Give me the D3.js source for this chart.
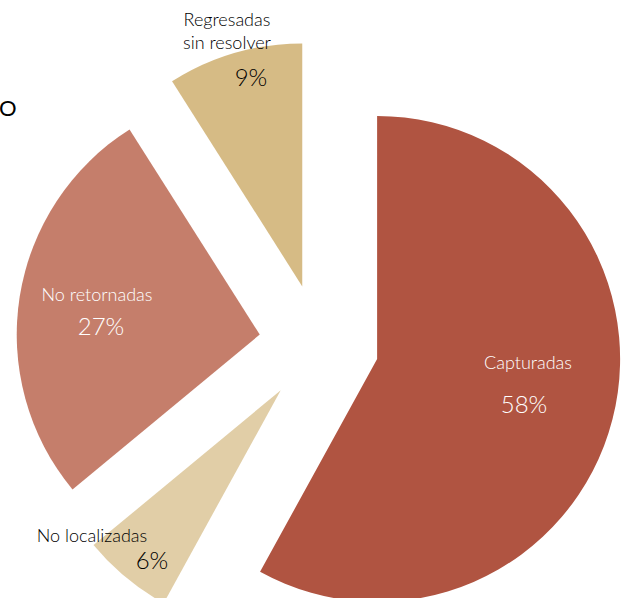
<!DOCTYPE html>
<html lang="es">
<head>
<meta charset="utf-8">
<title>Distribución de casos</title>
<script src="https://cdn.jsdelivr.net/npm/d3@7/dist/d3.min.js"></script>
<style>
  html, body { margin: 0; padding: 0; background: #fff; }
  svg { display: block; }
  text { font-family: Lato, "Open Sans", sans-serif; font-weight: 300; }
</style>
</head>
<body>
<svg id="chart" width="623" height="598"></svg>
<script>
// Categories and shares (%) in drawing order, clockwise from 12 o'clock
const categories = ["Capturadas", "No localizadas", "No retornadas", "Regresadas sin resolver"];
const shares = [58, 6, 27, 9];
const percentLabels = ["58%", "6%", "27%", "9%"];

// Slice colours
const colors = ["#B05441", "#E1CEA7", "#C57E6B", "#D6BB85"];

const cx = 319, cy = 344;      // pie centre before exploding
const radius = 243;
const explode = 60;             // distance each slice is pulled out

const svg = d3.select("#chart");

const pie = d3.pie().sort(null).value(d => d.value).startAngle(0).endAngle(2 * Math.PI);
const arc = d3.arc().innerRadius(0).outerRadius(radius);

const data = categories.map((c, i) => ({ name: c, value: shares[i], pct: percentLabels[i], color: colors[i] }));
const arcs = pie(data);

const g = svg.append("g").attr("transform", `translate(${cx},${cy})`);

g.selectAll("path.slice").data(arcs).join("path")
  .attr("class", "slice")
  .attr("d", arc)
  .attr("fill", d => d.data.color)
  .attr("transform", d => {
    const mid = (d.startAngle + d.endAngle) / 2;
    return `translate(${Math.sin(mid) * explode},${-Math.cos(mid) * explode})`;
  });

// Label placement per category (name lines, percentage), absolute page coords
const labelLayout = {
  "Capturadas":              { fill: "#fff", lines: [[528, 369]], pct: [524, 413] },
  "No localizadas":          { fill: "#000", lines: [[92, 542]], pct: [152, 569] },
  "No retornadas":           { fill: "#fff", lines: [[97, 301]], pct: [101, 335] },
  "Regresadas sin resolver": { fill: "#000", lines: [[227, 26], [227, 49]], pct: [251, 86], split: ["Regresadas", "sin resolver"] }
};

const labels = svg.append("g");
arcs.forEach(d => {
  const L = labelLayout[d.data.name];
  const names = L.split || [d.data.name];
  names.forEach((t, i) => {
    labels.append("text")
      .attr("x", L.lines[i][0]).attr("y", L.lines[i][1])
      .attr("text-anchor", "middle")
      .attr("font-size", 18)
      .attr("fill", L.fill)
      .text(t);
  });
  labels.append("text")
    .attr("x", L.pct[0]).attr("y", L.pct[1])
    .attr("text-anchor", "middle")
    .attr("font-size", 24)
    .attr("fill", L.fill)
    .text(d.data.pct);
});

// clipped title fragment at the left edge
svg.append("text")
  .attr("x", -1).attr("y", 116)
  .attr("font-size", 22)
  .style("font-weight", 400)
  .attr("fill", "#000")
  .text("O");
</script>
</body>
</html>
